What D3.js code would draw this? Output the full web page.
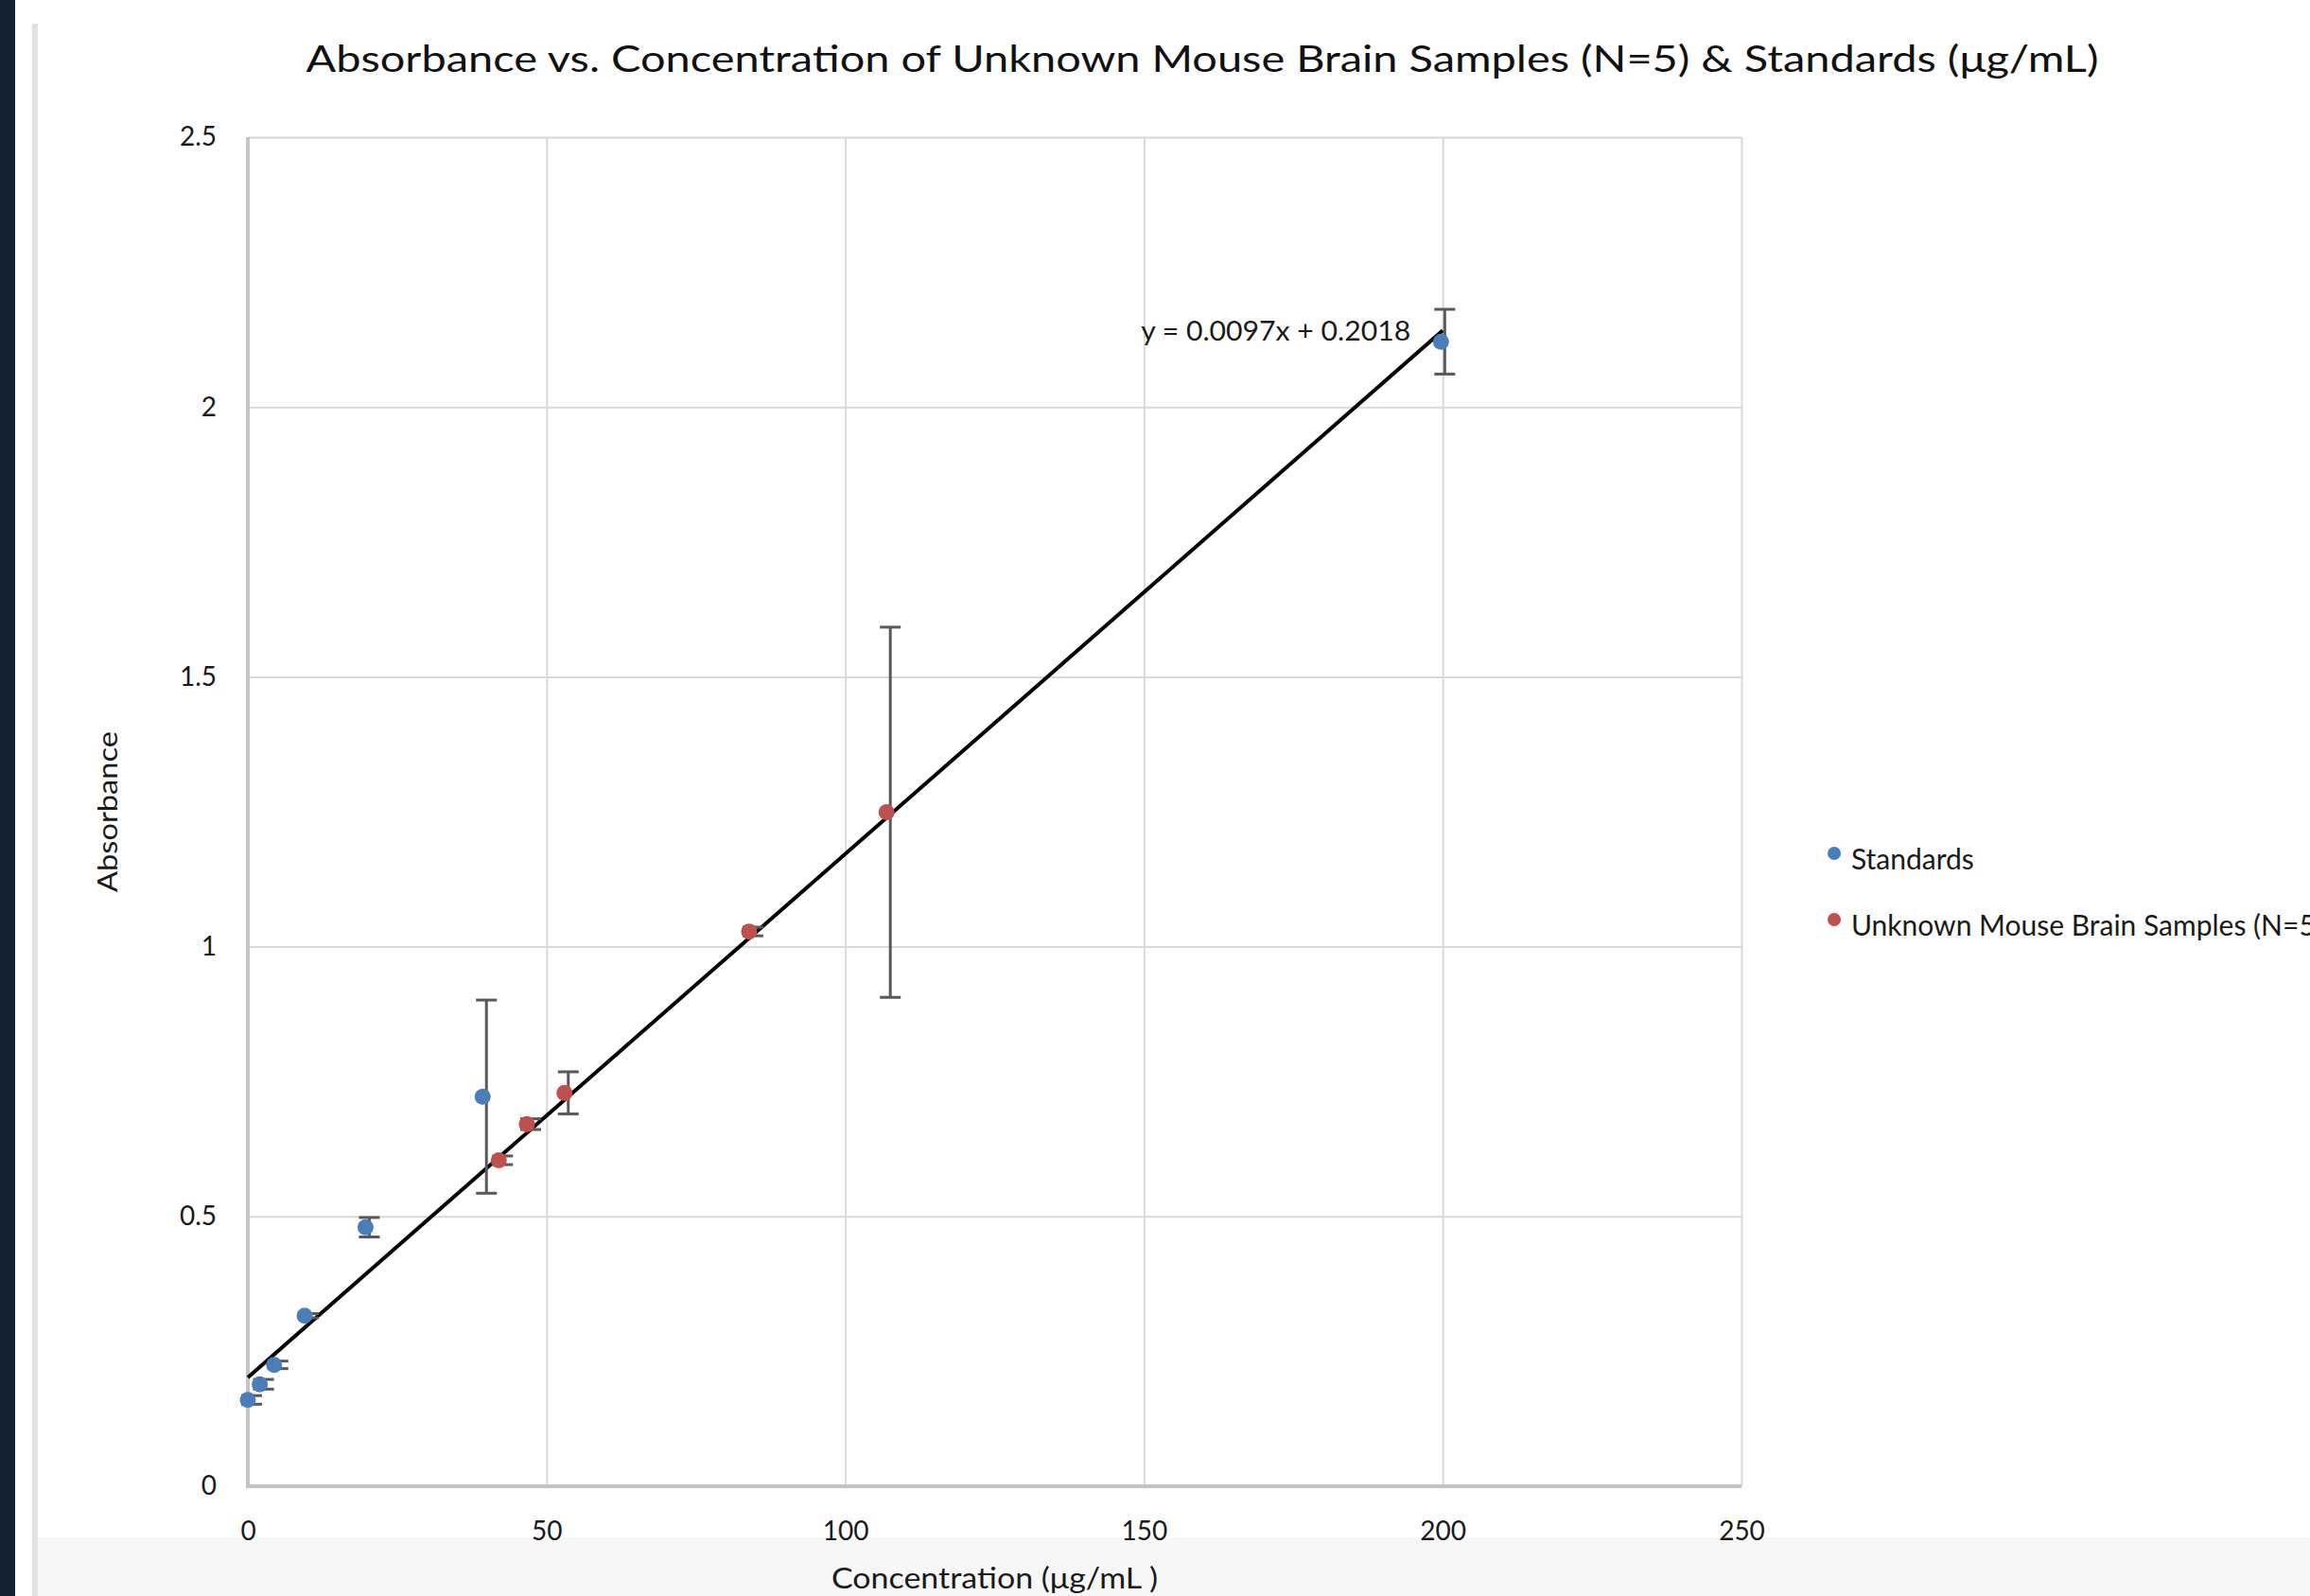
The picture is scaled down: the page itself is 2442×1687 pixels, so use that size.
<!DOCTYPE html>
<html>
<head>
<meta charset="utf-8">
<script src="https://cdn.jsdelivr.net/npm/d3@7"></script>
<style>
  body { margin: 0; background: #fff; overflow: hidden; }
  svg { display: block; font-family: Lato, "Open Sans", sans-serif; }
</style>
</head>
<body>
<svg id="chart" width="2442" height="1687"></svg>
<script>
// standards (blue) and unknown samples (red): concentration, absorbance, error
var stdConc = [0, 2, 4.4, 9.5, 19.7, 39.3, 199.7];
var stdAbs  = [0.16, 0.189, 0.225, 0.316, 0.48, 0.722, 2.121];
var stdErr  = [0.008, 0.009, 0.007, 0.004, 0.018, 0.179, 0.06];

var unkConc = [42, 46.7, 53, 83.9, 106.9];
var unkAbs  = [0.604, 0.671, 0.729, 1.028, 1.249];
var unkErr  = [0.008, 0.01, 0.039, 0.008, 0.343];

var xTicks = [0, 50, 100, 150, 200, 250];
var yTicks = [0, 0.5, 1, 1.5, 2, 2.5];

var slope = 0.0097, intercept = 0.2018;
var fitRange = [0, 200];

var seriesNames = ["Standards", "Unknown Mouse Brain Samples (N=5)"];
var seriesColors = ["#4a7ebb", "#c0504d"];

var titleText = "Absorbance vs. Concentration of Unknown Mouse Brain Samples (N=5) & Standards (\u03bcg/mL)";

(function() {
"use strict";

var svg = d3.select("#chart");
var left = 262, right = 1841, top = 145, bottom = 1571;
var W = right - left, H = bottom - top;

// page furniture
svg.append("rect").attr("x", 0).attr("y", 0).attr("width", 16).attr("height", 1687).attr("fill", "#142035");
svg.append("rect").attr("x", 40).attr("y", 1625).attr("width", 2402).attr("height", 62).attr("fill", "#f7f7f7");
svg.append("rect").attr("x", 34).attr("y", 25).attr("width", 6).attr("height", 1662).attr("fill", "#e2e2e2");

var x = d3.scaleLinear().domain([0, 250]).range([left, right]);
var y = d3.scaleLinear().domain([0, 2.5]).range([bottom, top]);

// gridlines + tick labels
var gx = svg.append("g")
    .attr("transform", "translate(0," + bottom + ")")
    .call(d3.axisBottom(x).tickValues(xTicks).tickFormat(d3.format("d"))
        .tickSize(-H).tickPadding(37));
var gy = svg.append("g")
    .attr("transform", "translate(" + left + ",0)")
    .call(d3.axisLeft(y).tickValues(yTicks).tickFormat(function(d) { return String(d); })
        .tickSize(-W).tickPadding(33));

[gx, gy].forEach(function(g) {
    g.select(".domain").remove();
    g.selectAll(".tick line").attr("stroke", "#d9d9d9").attr("stroke-width", 2);
    g.selectAll(".tick text").attr("fill", "#1a1a1a")
        .style("font-size", "28px").style("font-family", "Lato, sans-serif");
});

// axis lines
svg.append("line").attr("x1", left).attr("x2", left).attr("y1", top).attr("y2", bottom + 2)
    .attr("stroke", "#c4c4c4").attr("stroke-width", 4);
svg.append("line").attr("x1", left - 2).attr("x2", right).attr("y1", bottom).attr("y2", bottom)
    .attr("stroke", "#c4c4c4").attr("stroke-width", 4);

// trendline
svg.append("line")
    .attr("x1", x(fitRange[0])).attr("y1", y(slope * fitRange[0] + intercept))
    .attr("x2", x(fitRange[1])).attr("y2", y(slope * fitRange[1] + intercept))
    .attr("stroke", "#000").attr("stroke-width", 4);

svg.append("text")
    .attr("x", x(fitRange[1]) - 34)
    .attr("y", y(slope * fitRange[1] + intercept) + 11)
    .attr("text-anchor", "end")
    .attr("textLength", 285).attr("lengthAdjust", "spacingAndGlyphs")
    .style("font-size", "28px").attr("fill", "#1a1a1a")
    .text("y = " + slope + "x + " + intercept);

// series
var barShift = 4, cap = 11;
function drawSeries(cx, cy, err, color) {
    var pts = cx.map(function(d, i) { return { x: d, y: cy[i], e: err[i] }; });
    var g = svg.append("g");
    var eb = g.selectAll("g.err").data(pts).enter().append("g")
        .attr("stroke", "#595959").attr("stroke-width", 3);
    eb.append("line")
        .attr("x1", function(d) { return x(d.x) + barShift; })
        .attr("x2", function(d) { return x(d.x) + barShift; })
        .attr("y1", function(d) { return y(d.y + d.e); })
        .attr("y2", function(d) { return y(d.y - d.e); });
    [1, -1].forEach(function(s) {
        eb.append("line")
            .attr("x1", function(d) { return x(d.x) + barShift - cap; })
            .attr("x2", function(d) { return x(d.x) + barShift + cap; })
            .attr("y1", function(d) { return y(d.y + s * d.e); })
            .attr("y2", function(d) { return y(d.y + s * d.e); });
    });
    g.selectAll("circle").data(pts).enter().append("circle")
        .attr("cx", function(d) { return x(d.x); })
        .attr("cy", function(d) { return y(d.y); })
        .attr("r", 8.5)
        .attr("fill", color);
}
drawSeries(stdConc, stdAbs, stdErr, seriesColors[0]);
drawSeries(unkConc, unkAbs, unkErr, seriesColors[1]);

// title
svg.append("text")
    .attr("x", 1271).attr("y", 76)
    .attr("text-anchor", "middle")
    .attr("textLength", 1895).attr("lengthAdjust", "spacingAndGlyphs")
    .style("font-size", "39px").attr("fill", "#111")
    .text(titleText);

// axis titles
svg.append("text")
    .attr("x", (left + right) / 2).attr("y", 1679)
    .attr("text-anchor", "middle")
    .attr("textLength", 345).attr("lengthAdjust", "spacingAndGlyphs")
    .style("font-size", "30px").attr("fill", "#1a1a1a")
    .text("Concentration  (\u03bcg/mL )");

svg.append("text")
    .attr("transform", "translate(124," + (top + bottom) / 2 + ") rotate(-90)")
    .attr("text-anchor", "middle")
    .attr("textLength", 170).attr("lengthAdjust", "spacingAndGlyphs")
    .style("font-size", "29px").attr("fill", "#1a1a1a")
    .text("Absorbance");

// legend
var legend = svg.append("g").selectAll("g").data(seriesNames).enter().append("g")
    .attr("transform", function(d, i) { return "translate(1939," + (902 + i * 70) + ")"; });
legend.append("circle").attr("r", 7).attr("fill", function(d, i) { return seriesColors[i]; });
legend.append("text")
    .attr("x", 18).attr("y", 17)
    .style("font-size", "30px").attr("fill", "#1a1a1a")
    .text(function(d) { return d; });

})();
</script>
</body>
</html>
